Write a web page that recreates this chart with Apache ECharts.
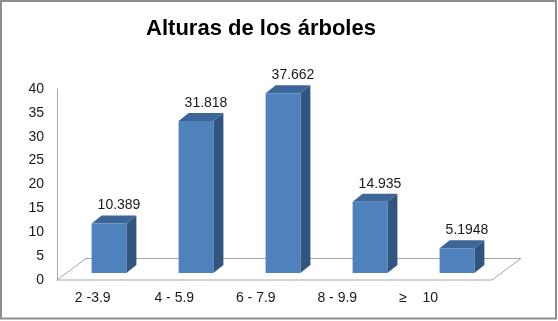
<!DOCTYPE html>
<html>
<head>
<meta charset="utf-8">
<script src="https://cdn.jsdelivr.net/npm/echarts@6/dist/echarts.min.js"></script>
<style>html,body{margin:0;padding:0;background:#fff}#c{width:558px;height:321px}</style>
</head>
<body>
<div id="c"></div>
<script>
const titleText = 'Alturas de los árboles';
const categories = ['2 -3.9', '4 - 5.9', '6 - 7.9', '8 - 9.9', '≥    10'];
const values = [10.389, 31.818, 37.662, 14.935, 5.1948];
const valueLabels = ['10.389', '31.818', '37.662', '14.935', '5.1948'];
const yTicks = [0, 5, 10, 15, 20, 25, 30, 35, 40];

const FONT = '"Liberation Sans", Arial, sans-serif';
const chart = echarts.init(document.getElementById('c'), null, {renderer: 'canvas'});

// 3D offsets (bars sit inside the floor depth)
const OX = 8.5, OY = -7, DX = 10, DY = -8;
const FX = 29, FY = -21.5;

function renderBar(params, api) {
  const i = api.value(0), v = api.value(1);
  const top = api.coord([i, v]);
  const base = api.coord([i, 0]);
  const bw = api.size([1, 0])[0] * 0.4;
  const xl = base[0] + OX - bw / 2, xr = xl + bw;
  const yb = base[1] + OY, yt = top[1] + OY;
  return {
    type: 'group',
    children: [
      {type: 'polygon', shape: {points: [[xr, yt], [xr + DX, yt + DY], [xr + DX, yb + DY], [xr, yb]]}, style: {fill: '#30557F'}},
      {type: 'polygon', shape: {points: [[xl, yt], [xl + DX, yt + DY], [xr + DX, yt + DY], [xr, yt]]}, style: {fill: '#3C6698'}},
      {type: 'rect', shape: {x: xl, y: yt, width: bw, height: yb - yt}, style: {fill: '#4F81BD'}},
      {type: 'text', x: (xl + xr) / 2 + DX, y: yt + DY - 3,
        style: {text: valueLabels[params.dataIndex], align: 'center', verticalAlign: 'bottom', font: '14px ' + FONT, fill: '#1a1a1a'}}
    ]
  };
}

function renderFloor(params, api) {
  const cs = params.coordSys;
  const yb = cs.y + cs.height, x0 = cs.x, x1 = cs.x + cs.width;
  return {
    type: 'polygon',
    shape: {points: [[x0, yb], [x1, yb], [x1 + FX, yb + FY], [x0 + FX, yb + FY]]},
    style: {fill: 'none', stroke: '#A6A6A6', lineWidth: 1}
  };
}

chart.setOption({
  animation: false,
  graphic: [
    {type: 'rect', shape: {x: 1, y: 1, width: 555, height: 317.5}, style: {fill: 'none', stroke: '#8E8E8E', lineWidth: 2}, z: 100},
    {type: 'text', x: 261, y: 29, style: {text: titleText, align: 'center', verticalAlign: 'middle', font: 'bold 22px ' + FONT, fill: '#000'}}
  ],
  grid: [
    {left: 57, right: 66, top: 89, bottom: 41},
    {left: 52, right: 98.5, top: 89, bottom: 41}
  ],
  xAxis: [
    {type: 'category', gridIndex: 0, data: categories, axisLine: {show: false}, axisTick: {show: false}, axisLabel: {show: false}},
    {type: 'category', gridIndex: 1, data: categories, axisLine: {show: false}, axisTick: {show: false},
      axisLabel: {margin: 11, fontFamily: FONT, fontSize: 14, color: '#1a1a1a', interval: 0}}
  ],
  yAxis: [
    {type: 'value', gridIndex: 0, min: yTicks[0], max: yTicks[yTicks.length - 1], interval: 5,
      axisLine: {show: true, lineStyle: {color: '#A6A6A6'}}, axisTick: {show: false}, splitLine: {show: false},
      axisLabel: {margin: 13, fontFamily: FONT, fontSize: 14, color: '#1a1a1a'}},
    {type: 'value', gridIndex: 1, min: 0, max: 40, show: false}
  ],
  series: [
    {type: 'custom', name: 'floor', xAxisIndex: 0, yAxisIndex: 0, renderItem: renderFloor, data: [[0, 0]], z: 1, silent: true},
    {type: 'custom', name: 'Alturas', xAxisIndex: 0, yAxisIndex: 0, renderItem: renderBar,
      data: values.map((v, i) => [i, v]), z: 2, encode: {x: 0, y: 1}}
  ]
});
</script>
</body>
</html>
